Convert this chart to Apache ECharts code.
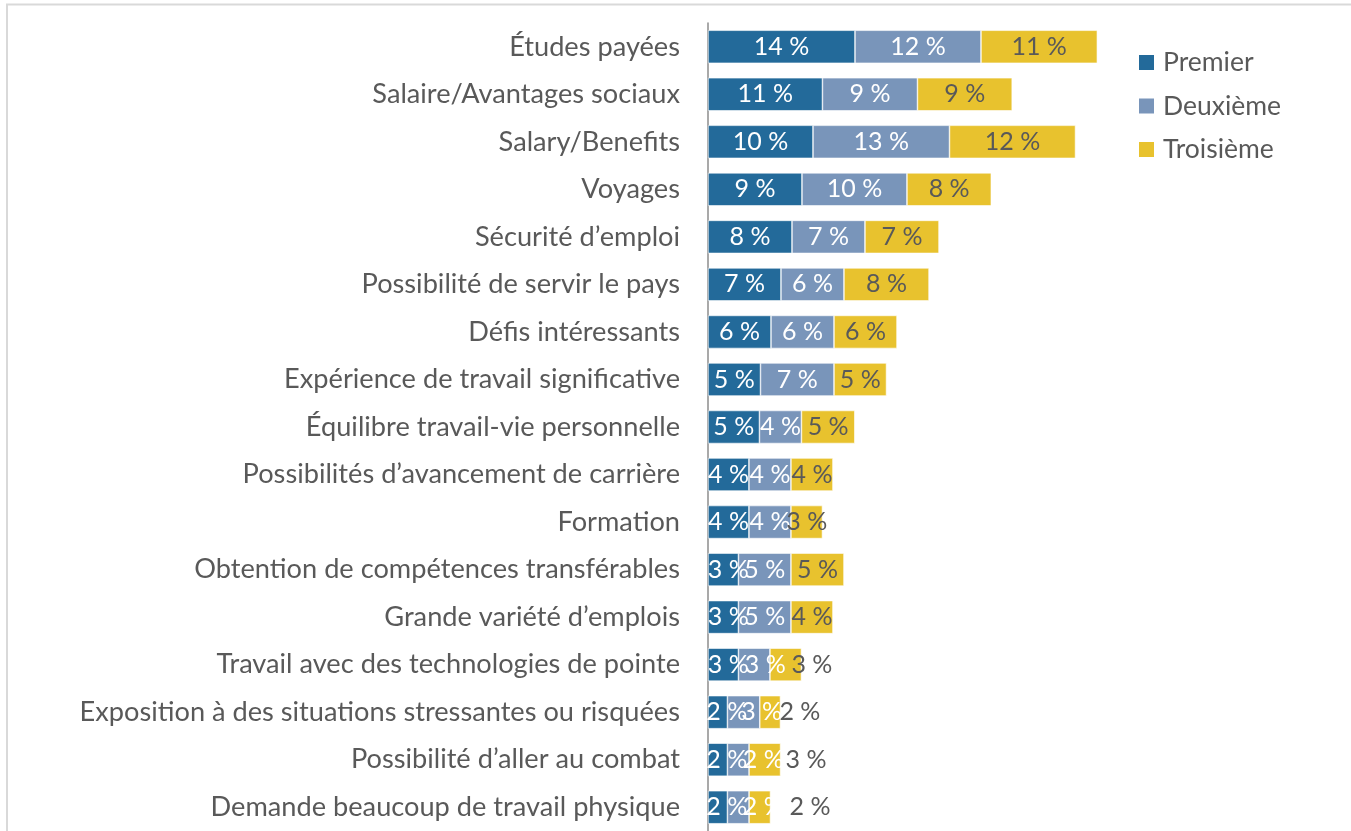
<!DOCTYPE html>
<html><head><meta charset="utf-8">
<script src="https://cdn.jsdelivr.net/npm/echarts@6/dist/echarts.min.js"></script>
<style>html,body{margin:0;padding:0;background:#fff}#c{width:1351px;height:831px}</style>
</head><body><div id="c"></div>
<script>
const categories = [
  "Études payées",
  "Salaire/Avantages sociaux",
  "Salary/Benefits",
  "Voyages",
  "Sécurité d’emploi",
  "Possibilité de servir le pays",
  "Défis intéressants",
  "Expérience de travail significative",
  "Équilibre travail-vie personnelle",
  "Possibilités d’avancement de carrière",
  "Formation",
  "Obtention de compétences transférables",
  "Grande variété d’emplois",
  "Travail avec des technologies de pointe",
  "Exposition à des situations stressantes ou risquées",
  "Possibilité d’aller au combat",
  "Demande beaucoup de travail physique"
];
const seriesNames = ["Premier", "Deuxième", "Troisième"];
const premier   = [14.0, 10.9, 10.0, 8.95, 8.0, 6.95, 6.0, 5.0, 4.9, 3.9, 3.9, 2.9, 2.9, 2.9, 1.85, 1.85, 1.85];
const deuxieme  = [12.0, 9.05, 13.0, 10.0, 6.95, 6.0, 6.0, 7.0, 4.0, 4.0, 4.0, 5.0, 5.0, 3.0, 3.08, 2.06, 2.06];
const troisieme = [11.08, 9.02, 12.0, 8.03, 7.05, 8.1, 6.0, 5.0, 5.08, 4.0, 3.0, 5.05, 4.0, 3.0, 1.97, 3.0, 2.04];

const FONT = 'Lato';
const colors = ['#236A9A', '#7995BA', '#E8C22E'];
const fmt = p => Math.round(p.value) + ' %';

// label placement tweaks seen in the reference (pixel offsets, style only)
const labelShift = [
  {11: 5, 12: 5, 13: 5, 14: 9, 15: 9, 16: 9},      // Premier
  {13: 11, 14: 18, 15: 25, 16: 25},                // Deuxième
  {}                                               // Troisième
];
// yellow labels moved outside for the last rows (as in the reference)
const outsideOffsets = {13: -9, 14: 0, 15: 6, 16: 20};

function mkSeries(name, values, idx) {
  const labelColor = idx === 2 ? '#595959' : '#ffffff';
  return {
    name, type: 'bar', stack: 'total', barWidth: 33,
    itemStyle: {color: colors[idx], borderColor: '#ffffff', borderWidth: 0.6},
    label: {show: true, position: 'inside', formatter: fmt, color: labelColor,
            fontFamily: FONT, fontSize: 25},
    data: values.map((v, i) => {
      if (idx === 2 && outsideOffsets[i] !== undefined) {
        return {value: v, label: {position: 'right', distance: outsideOffsets[i] - 1, color: '#595959'}};
      }
      if (labelShift[idx][i] !== undefined) {
        return {value: v, label: {offset: [labelShift[idx][i], 0]}};
      }
      return v;
    })
  };
}

const chart = echarts.init(document.getElementById('c'), null, {renderer: 'canvas'});
chart.setOption({
  animation: false,
  backgroundColor: '#ffffff',
  graphic: [{
    type: 'rect', shape: {x: 7, y: 4.5, width: 1400, height: 900},
    style: {fill: 'none', stroke: '#d9d9d9', lineWidth: 2}, silent: true, z: -1
  }],
  legend: {
    orient: 'vertical', left: 1132, top: 44, itemGap: 16.5, itemWidth: 17, itemHeight: 17,
    icon: 'rect',
    textStyle: {fontFamily: FONT, fontSize: 26.5, color: '#595959', padding: [0, 0, 0, 3]},
    data: seriesNames
  },
  grid: {left: 708, top: 23, width: 420, height: 814},
  xAxis: {type: 'value', min: 0, max: 40, show: false},
  yAxis: {
    type: 'category', inverse: true, data: categories,
    axisLine: {lineStyle: {color: '#8c8c8c', width: 1.5}},
    axisTick: {length: 11, lineStyle: {color: '#8c8c8c', width: 1.5}},
    axisLabel: {fontFamily: FONT, fontSize: 27.2, color: '#595959', margin: 28}
  },
  series: [mkSeries(seriesNames[0], premier, 0), mkSeries(seriesNames[1], deuxieme, 1), mkSeries(seriesNames[2], troisieme, 2)]
});
</script></body></html>
